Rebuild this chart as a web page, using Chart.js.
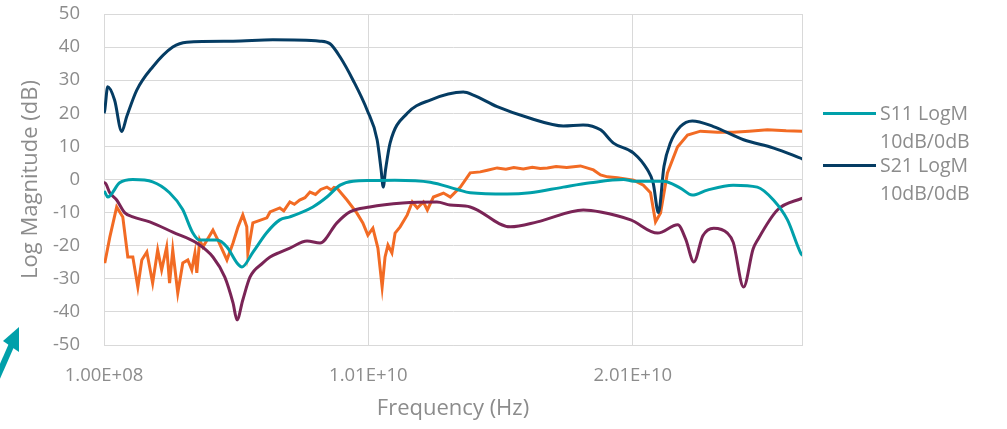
<!DOCTYPE html>
<html>
<head>
<meta charset="utf-8">
<script src="https://cdn.jsdelivr.net/npm/chart.js@4"></script>
<style>
  html, body { margin: 0; padding: 0; background: #fff; }
  #wrap { position: relative; width: 1007px; height: 429px; overflow: hidden; }
  #legend { position: absolute; left: 823px; top: 100px; font-family: "Open Sans", sans-serif; font-size: 19.5px; color: #8c8c8c; }
  .item { position: relative; height: 52px; }
  .swatch { position: absolute; left: 0; top: 12px; width: 53px; height: 3px; }
  .label { position: absolute; left: 57px; top: -1px; line-height: 28px; white-space: nowrap; }
  #arrow { position: absolute; left: 0; top: 320px; }
</style>
</head>
<body>
<div id="wrap">
  <canvas id="chart"></canvas>
  <div id="legend"></div>
  <svg id="arrow" width="30" height="60" viewBox="0 0 30 60">
    <line x1="-3" y1="58" x2="12" y2="24" stroke="#00a0aa" stroke-width="6"/>
    <polygon points="19,7 19,32 3,21" fill="#00a0aa"/>
  </svg>
</div>
<script>
"use strict";

// frequencies in GHz, magnitudes in dB
const s11Freq = [0.1, 0.13, 0.24, 0.69, 1.19, 1.94, 2.58, 3.07, 3.45, 3.72, 4.37, 4.75, 5.13, 5.32, 5.73, 6.26, 6.75, 7.13, 8.0, 8.53, 9.03, 9.52, 10.2, 11.1, 12.44, 13.46, 13.95, 15.35, 16.22, 17.47, 18.5, 19.75, 20.13, 21.26, 21.9, 22.35, 22.92, 23.9, 24.81, 25.42, 25.95, 26.45, 26.52];
const s11Mag  = [-3.5, -3.8, -5.3, -1, 0, -0.7, -4, -9, -16, -18.3, -18.3, -20.4, -25.2, -26.4, -22, -16, -12.2, -11.3, -8.3, -5.3, -1.7, -0.5, -0.3, -0.2, -0.8, -3, -4, -4.4, -4, -2.3, -1, 0, -0.5, -0.5, -2.6, -4.7, -3.2, -1.7, -2.3, -6.2, -12.2, -22.2, -23];

const s21Freq = [0.1, 0.13, 0.24, 0.5, 0.77, 0.96, 1.34, 1.94, 2.7, 3.23, 4.98, 6.49, 8.27, 8.65, 9.03, 9.52, 10.05, 10.43, 10.58, 10.66, 10.75, 10.92, 11.57, 12.44, 13.69, 14.07, 14.97, 16.22, 17.47, 18.22, 18.88, 19.37, 20.13, 20.65, 20.87, 21.07, 21.28, 21.52, 21.9, 22.35, 23.15, 24.29, 25.43, 26.52];
const s21Mag  = [20, 21, 28, 24, 14.5, 19, 27, 34, 40, 41.5, 41.8, 42.2, 41.8, 41, 37, 30, 21, 12, 3, -2.3, 3, 11, 20, 24, 26.4, 25.5, 22, 18.5, 16.2, 16.5, 15, 11, 8, 3, -1, -10, 4, 11, 16, 17.7, 16, 12, 9.5, 6.2];

const trace3Freq = [0.1, 0.13, 0.32, 0.58, 0.88, 1.19, 1.83, 2.7, 3.61, 4.22, 4.67, 4.98, 5.13, 5.35, 5.62, 6.11, 6.38, 6.75, 7.13, 7.78, 8.27, 8.91, 9.4, 10.15, 11.4, 12.69, 13.19, 13.95, 15.47, 16.49, 18.23, 18.88, 20.02, 21.04, 21.8, 22.1, 22.41, 22.75, 23.16, 23.68, 23.9, 24.29, 24.65, 24.82, 25.57, 26.52];
const trace3Mag  = [-1, -1, -4, -6.2, -10, -11.3, -12.8, -15.9, -19.2, -23.4, -29.5, -37.3, -42.4, -36.4, -29.5, -25.2, -23.4, -22, -20.7, -18.6, -19.2, -13.1, -9.8, -8.3, -7.1, -6.8, -7.7, -8.3, -14.3, -12.8, -9.2, -9.8, -12.2, -16.2, -13.7, -18, -24.9, -17, -14.7, -16.2, -19, -32.5, -21, -18.3, -9.2, -5.6];

const trace4Freq = [0.1, 0.13, 0.32, 0.58, 0.81, 1.0, 1.19, 1.38, 1.53, 1.72, 1.94, 2.13, 2.28, 2.47, 2.58, 2.7, 2.89, 3.08, 3.27, 3.42, 3.54, 3.61, 3.72, 3.84, 4.22, 4.41, 4.75, 4.98, 5.17, 5.35, 5.5, 5.54, 5.73, 6.26, 6.38, 6.75, 6.9, 7.13, 7.3, 7.5, 7.7, 7.89, 8.1, 8.3, 8.53, 8.7, 8.8, 8.91, 9.29, 9.66, 9.89, 10.08, 10.27, 10.46, 10.62, 10.73, 10.84, 10.99, 11.11, 11.3, 11.57, 11.76, 11.95, 12.18, 12.33, 12.56, 12.94, 13.2, 13.58, 13.95, 14.33, 14.6, 14.97, 15.3, 15.6, 15.96, 16.3, 16.6, 16.87, 17.2, 17.6, 18.12, 18.61, 18.88, 19.14, 19.52, 20.13, 20.5, 20.77, 20.96, 21.15, 21.41, 21.79, 22.17, 22.66, 23.3, 23.9, 24.5, 25.19, 25.9, 26.52];
const trace4Mag  = [-24, -25.2, -17.4, -8.3, -11.3, -23.4, -23.4, -32.5, -24.3, -21.9, -31.3, -21.3, -27.3, -20.4, -31.3, -21.3, -34.3, -25.2, -24.3, -27.3, -22.2, -28.2, -18.3, -20.4, -15.3, -18.3, -24.3, -19.2, -14.3, -10.7, -14.3, -22.2, -13.1, -11.6, -9.8, -8.6, -9.5, -6.8, -7.5, -6.2, -5.5, -3.8, -4.5, -3, -2.3, -3.2, -2.4, -2.6, -6.2, -10.1, -13.1, -16.8, -14.7, -20.7, -32.5, -23.4, -19.8, -22.2, -16.2, -14.3, -10.7, -6.8, -8.6, -6.8, -9.2, -5.3, -4.1, -5.3, -2.3, 2, 2.3, 2.8, 3.5, 3.1, 3.6, 3.2, 3.7, 3.3, 3.5, 3.9, 3.6, 4.1, 2.9, 1.4, 0.8, 0.5, -0.2, -1.7, -4, -12.8, -10.1, 2, 9.8, 13.4, 14.6, 14.3, 14.3, 14.6, 15, 14.7, 14.6];

const xTickValues = [1e8, 1.01e10, 2.01e10];
const xTickLabels = ["1.00E+08", "1.01E+10", "2.01E+10"];
const xMin = 1e8;
const xMax = 2.65e10;
const yMin = -50, yMax = 50, yStep = 10;

const TEXT = "#8c8c8c";
const GRID = "#d9d9d9";
const FONT = "'Open Sans', sans-serif";

function toPoints(freq, mag) {
  return freq.map((f, i) => ({ x: f * 1e9, y: mag[i] }));
}

const datasets = [
  { label: ["S11 LogM", "10dB/0dB"], data: toPoints(s11Freq, s11Mag), borderColor: "#00a0aa", cubicInterpolationMode: "monotone", inLegend: true },
  { label: ["S21 LogM", "10dB/0dB"], data: toPoints(s21Freq, s21Mag), borderColor: "#053c63", cubicInterpolationMode: "monotone", inLegend: true },
  { label: "Trace 3", data: toPoints(trace3Freq, trace3Mag), borderColor: "#7a2456", cubicInterpolationMode: "monotone" },
  { label: "Trace 4", data: toPoints(trace4Freq, trace4Mag), borderColor: "#f26b24", tension: 0 },
].map(d => Object.assign({ borderWidth: 3, pointRadius: 0, fill: false }, d));

const chart = new Chart(document.getElementById("chart"), {
  type: "line",
  data: { datasets },
  options: {
    responsive: true,
    maintainAspectRatio: false,
    animation: false,
    layout: { padding: { top: 14, right: 205, left: 0, bottom: 0 } },
    plugins: { legend: { display: false }, tooltip: { enabled: false } },
    scales: {
      x: {
        type: "linear",
        min: xMin,
        max: xMax,
        afterBuildTicks: scale => {
          scale.ticks = xTickValues.concat([xMax]).map(v => ({ value: v }));
        },
        afterFit: scale => {
          scale.height = 84;
          scale.paddingLeft = 0;
          scale.paddingRight = 0;
        },
        ticks: {
          color: TEXT,
          font: { family: FONT, size: 18.5 },
          padding: 20,
          maxRotation: 0,
          autoSkip: false,
          callback: (v) => {
            const i = xTickValues.indexOf(v);
            return i >= 0 ? xTickLabels[i] : "";
          },
        },
        grid: { color: GRID, lineWidth: 1, drawTicks: false },
        border: { color: GRID, width: 1 },
        title: { display: true, text: "Frequency (Hz)", color: TEXT, font: { family: FONT, size: 22 }, padding: { top: 0, bottom: 7 } },
      },
      y: {
        min: yMin,
        max: yMax,
        afterFit: scale => {
          scale.width = 104;
          scale.paddingTop = 0;
          scale.paddingBottom = 0;
        },
        ticks: { stepSize: yStep, color: TEXT, font: { family: FONT, size: 18.5 }, padding: 24 },
        grid: { color: GRID, lineWidth: 1, drawTicks: false },
        border: { color: GRID, width: 1 },
        title: { display: true, text: "Log Magnitude (dB)", color: TEXT, font: { family: FONT, size: 22 }, padding: { top: 18, bottom: 0 } },
      },
    },
  },
});

// legend on the right, only the two S-parameter traces
const legendEl = document.getElementById("legend");
legendEl.innerHTML = chart.data.datasets
  .filter(d => d.inLegend)
  .map(d => `<div class="item"><div class="swatch" style="background:${d.borderColor}"></div><div class="label">${d.label.join("<br>")}</div></div>`)
  .join("");
</script>
</body>
</html>
